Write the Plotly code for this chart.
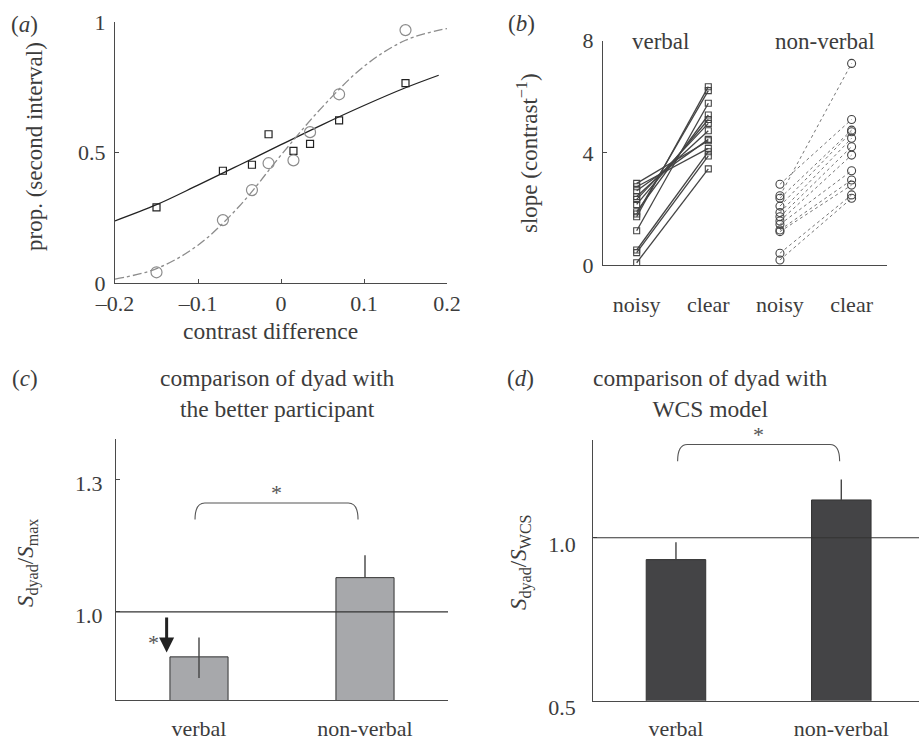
import plotly.graph_objects as go

# ---------------- data ----------------
# panel (a)
a_contrast = [-0.15, -0.07, -0.035, -0.015, 0.015, 0.035, 0.07, 0.15]
a_squares = [0.29, 0.43, 0.453, 0.57, 0.506, 0.533, 0.623, 0.766]
a_circles = [0.041, 0.241, 0.356, 0.459, 0.470, 0.578, 0.723, 0.969]
a_fit_solid_x = [-0.2, -0.15, -0.1, -0.05, 0.0, 0.05, 0.1, 0.15, 0.19]
a_fit_solid_y = [0.238, 0.30, 0.375, 0.452, 0.53, 0.607, 0.68, 0.748, 0.796]
a_fit_dash_x = [-0.2, -0.15, -0.1, -0.05, 0.0, 0.05, 0.1, 0.15, 0.2]
a_fit_dash_y = [0.015, 0.055, 0.145, 0.295, 0.49, 0.675, 0.83, 0.93, 0.975]
a_xticks = [-0.2, -0.1, 0, 0.1, 0.2]
a_xticklabels = ["\u20130.2", "\u20130.1", "0", "0.1", "0.2"]
a_yticks = [0, 0.5, 1]
a_yticklabels = ["0", "0.5", "1"]

# panel (b)
b_positions = [1, 2, 3, 4]
b_ticklabels = ["noisy", "clear", "noisy", "clear"]
b_verbal_noisy = [0.08, 0.44, 0.535, 1.22, 1.72, 1.82, 1.90, 2.16, 2.34, 2.44, 2.65, 2.79, 2.91]
b_verbal_clear = [3.43, 3.89, 4.04, 5.77, 6.36, 6.22, 5.35, 5.19, 5.05, 4.79, 4.48, 4.16, 4.43]
b_nonverbal_noisy = [2.88, 2.47, 2.38, 2.10, 1.87, 1.72, 1.57, 1.45, 1.25, 1.19, 0.42, 0.18]
b_nonverbal_clear = [5.19, 7.19, 4.81, 4.75, 4.52, 4.22, 3.92, 3.36, 3.03, 2.85, 2.50, 2.38]
b_yticks = [0, 4, 8]

# panel (c)
cd_categories = ["verbal", "non-verbal"]
cd_positions = [1, 2]
c_values = [0.898, 1.078]
c_err_plus = [0.044, 0.051]
c_err_minus = [0.048, 0.0]
c_bracket = [0.976, 1.958, 1.2475, 1.21]   # x_start, x_end, y_top, y_end
c_arrow = [0.805, 0.991, 0.908]           # x, y_tail, y_head
c_yticks = [1.0, 1.3]

# panel (d)
d_values = [0.933, 1.116]
d_err_plus = [0.053, 0.063]
d_err_minus = [0.0, 0.0]
d_bracket = [1.01, 1.99, 1.286, 1.235]
d_yticks = [0.5, 1.0]

# ---------------- style ----------------
W, H = 919, 740
FONT = "Times New Roman"
TXT = "#3c3c3c"
AX = "#4a4a4a"


def px(p):
    return p / W


def py(p):
    return 1 - p / H


fig = go.Figure()

# ---- panel (a)
fig.add_trace(go.Scatter(x=a_fit_solid_x, y=a_fit_solid_y, mode="lines",
                         line=dict(color="#222222", width=1.3, shape="spline"),
                         xaxis="x", yaxis="y", showlegend=False))
fig.add_trace(go.Scatter(x=a_fit_dash_x, y=a_fit_dash_y, mode="lines",
                         line=dict(color="#8c8c8c", width=1.3, dash="dashdot", shape="spline"),
                         xaxis="x", yaxis="y", showlegend=False))
fig.add_trace(go.Scatter(x=a_contrast, y=a_squares, mode="markers",
                         marker=dict(symbol="square-open", size=7, color="#222222",
                                     line=dict(width=1.2)),
                         xaxis="x", yaxis="y", showlegend=False))
fig.add_trace(go.Scatter(x=a_contrast, y=a_circles, mode="markers",
                         marker=dict(symbol="circle-open", size=11, color="#8c8c8c",
                                     line=dict(width=1.2)),
                         xaxis="x", yaxis="y", showlegend=False))

# ---- panel (b)
vx, vy = [], []
for n, c in zip(b_verbal_noisy, b_verbal_clear):
    vx += [b_positions[0], b_positions[1], None]
    vy += [n, c, None]
nx, ny = [], []
for n, c in zip(b_nonverbal_noisy, b_nonverbal_clear):
    nx += [b_positions[2], b_positions[3], None]
    ny += [n, c, None]

fig.add_trace(go.Scatter(x=vx, y=vy, mode="lines+markers",
                         line=dict(color="#444444", width=1.3),
                         marker=dict(symbol="square-open", size=6, color="#444444",
                                     line=dict(width=1.1)),
                         xaxis="x2", yaxis="y2", showlegend=False))
fig.add_trace(go.Scatter(x=nx, y=ny, mode="lines+markers",
                         line=dict(color="#666666", width=0.9, dash="dot"),
                         marker=dict(symbol="circle-open", size=8, color="#444444",
                                     line=dict(width=1.1)),
                         xaxis="x2", yaxis="y2", showlegend=False))

# ---- panel (c)
fig.add_trace(go.Bar(x=cd_positions, y=c_values, width=0.35,
                     marker=dict(color="#a7a8ab", line=dict(color="#333333", width=1)),
                     error_y=dict(type="data", array=c_err_plus, arrayminus=c_err_minus,
                                  symmetric=False, color="#444444", thickness=1.4, width=0),
                     xaxis="x3", yaxis="y3", showlegend=False))

# ---- panel (d)
fig.add_trace(go.Bar(x=cd_positions, y=d_values, width=0.36,
                     marker=dict(color="#444446", line=dict(color="#333333", width=1)),
                     error_y=dict(type="data", array=d_err_plus, arrayminus=d_err_minus,
                                  symmetric=False, color="#444444", thickness=1.4, width=0),
                     xaxis="x4", yaxis="y4", showlegend=False))

tickfont = dict(family=FONT, size=22, color=TXT)
common = dict(showgrid=False, zeroline=False, showline=True, linecolor=AX, linewidth=1.2,
              ticks="inside", ticklen=4, tickcolor=AX, tickwidth=1, tickfont=tickfont,
              fixedrange=True, automargin=False)

fig.update_layout(
    width=W, height=H,
    margin=dict(l=0, r=0, t=0, b=0, pad=0, autoexpand=False),
    paper_bgcolor="white", plot_bgcolor="white",
    font=dict(family=FONT, color=TXT),
    barmode="overlay",
    xaxis=dict(domain=[px(115), px(447)], range=[-0.2, 0.2], anchor="y",
               tickvals=a_xticks, ticktext=a_xticklabels, ticklabelstandoff=0, **common),
    yaxis=dict(domain=[py(283), py(22)], range=[0, 1], anchor="x",
               tickvals=a_yticks, ticktext=a_yticklabels, ticklabelstandoff=4, **common),
    xaxis2=dict(domain=[px(603), px(886.7)], range=[0.53, 4.49], anchor="y2",
                tickvals=b_positions, ticktext=b_ticklabels, ticklabelstandoff=19,
                **{**common, "ticks": ""}),
    yaxis2=dict(domain=[py(265), py(40.7)], range=[0, 8], anchor="x2",
                tickvals=b_yticks, ticklabelstandoff=4, **common),
    xaxis3=dict(domain=[px(116), px(448)], range=[0.5, 2.5], anchor="y3",
                tickvals=cd_positions, ticktext=cd_categories, ticklabelstandoff=8,
                **{**common, "ticks": ""}),
    yaxis3=dict(domain=[py(700), py(439)], range=[0.8, 1.393], anchor="x3",
                tickvals=c_yticks, ticktext=["1.0", "1.3"], ticklabelstandoff=8,
                ticklabelshift=3, **common),
    xaxis4=dict(domain=[px(593.3), 1.0], range=[0.5, 2.47], anchor="y4",
                tickvals=cd_positions, ticktext=cd_categories, ticklabelstandoff=8,
                **{**common, "ticks": ""}),
    yaxis4=dict(domain=[py(700.7), py(440)], range=[0.5, 1.3], anchor="x4",
                tickvals=d_yticks, ticktext=["0.5", "1.0"], ticklabelstandoff=12,
                ticklabelshift=7, **common),
)

shapes = []
# reference lines at 1.0
shapes.append(dict(type="line", xref="x3 domain", yref="y3", x0=0, x1=1, y0=1.0, y1=1.0,
                   line=dict(color="#333333", width=1.2)))
shapes.append(dict(type="line", xref="x4 domain", yref="y4", x0=0, x1=1, y0=1.0, y1=1.0,
                   line=dict(color="#333333", width=1.2)))


def bracket(b, xref, yref):
    x0, x1, yt, ye = b
    dx = (x1 - x0) * 0.06
    path = (f"M {x0},{ye} Q {x0},{yt} {x0 + dx},{yt} L {x1 - dx},{yt} "
            f"Q {x1},{yt} {x1},{ye}")
    return dict(type="path", xref=xref, yref=yref, path=path,
                line=dict(color="#555555", width=1.1))


shapes.append(bracket(c_bracket, "x3", "y3"))
shapes.append(bracket(d_bracket, "x4", "y4"))
fig.update_layout(shapes=shapes)

ann = []


def text(x, y, s, size=23, angle=0, color=TXT, xanchor="center"):
    ann.append(dict(x=x, y=y, xref="paper", yref="paper", text=s, showarrow=False,
                    textangle=angle, xanchor=xanchor, yanchor="middle",
                    font=dict(family=FONT, size=size, color=color)))


# panel labels
text(px(24), py(24), "(<i>a</i>)")
text(px(521), py(23), "(<i>b</i>)")
text(px(25), py(378), "(<i>c</i>)")
text(px(520), py(378), "(<i>d</i>)")
# axis titles
text(px(35), py(147), "prop. (second interval)", angle=-90)
text(px(270), py(331), "contrast difference", size=23.5)
text(px(527), py(153), "slope (contrast<sup>\u22121</sup>)", angle=-90)
text(px(27), py(563), "<i>S</i><sub>dyad</sub>/<i>S</i><sub>max</sub>", angle=-90)
text(px(520), py(562), "<i>S</i><sub>dyad</sub>/<i>S</i><sub>WCS</sub>", angle=-90)
# group labels in (b)
text(px(660), py(42), "verbal")
text(px(825), py(42), "non-verbal")
# titles
text(px(277), py(393), "comparison of dyad with<br>the better participant", size=23.5)
text(px(710), py(393), "comparison of dyad with<br>WCS model", size=23.5)

# stars above brackets
ann.append(dict(x=(c_bracket[0] + c_bracket[1]) / 2, y=c_bracket[2], xref="x3", yref="y3",
                text="*", showarrow=False, yanchor="bottom", yshift=-4,
                font=dict(family=FONT, size=22, color="#555555")))
ann.append(dict(x=(d_bracket[0] + d_bracket[1]) / 2, y=d_bracket[2], xref="x4", yref="y4",
                text="*", showarrow=False, yanchor="bottom", yshift=-4,
                font=dict(family=FONT, size=22, color="#555555")))
# arrow in (c)
ann.append(dict(x=c_arrow[0], y=c_arrow[2], ax=c_arrow[0], ay=c_arrow[1],
                xref="x3", yref="y3", axref="x3", ayref="y3", text="",
                showarrow=True, arrowhead=2, arrowsize=1.0, arrowwidth=3,
                arrowcolor="#222222"))
ann.append(dict(x=c_arrow[0], y=(c_arrow[1] + c_arrow[2]) / 2, xref="x3", yref="y3",
                text="*", showarrow=False, xanchor="right", xshift=-6, yshift=-8,
                font=dict(family=FONT, size=22, color="#555555")))

fig.update_layout(annotations=ann)
fig.write_html("out.html", config={"displayModeBar": False},
               post_script="document.body.style.margin='0px';document.body.style.padding='0px';")
